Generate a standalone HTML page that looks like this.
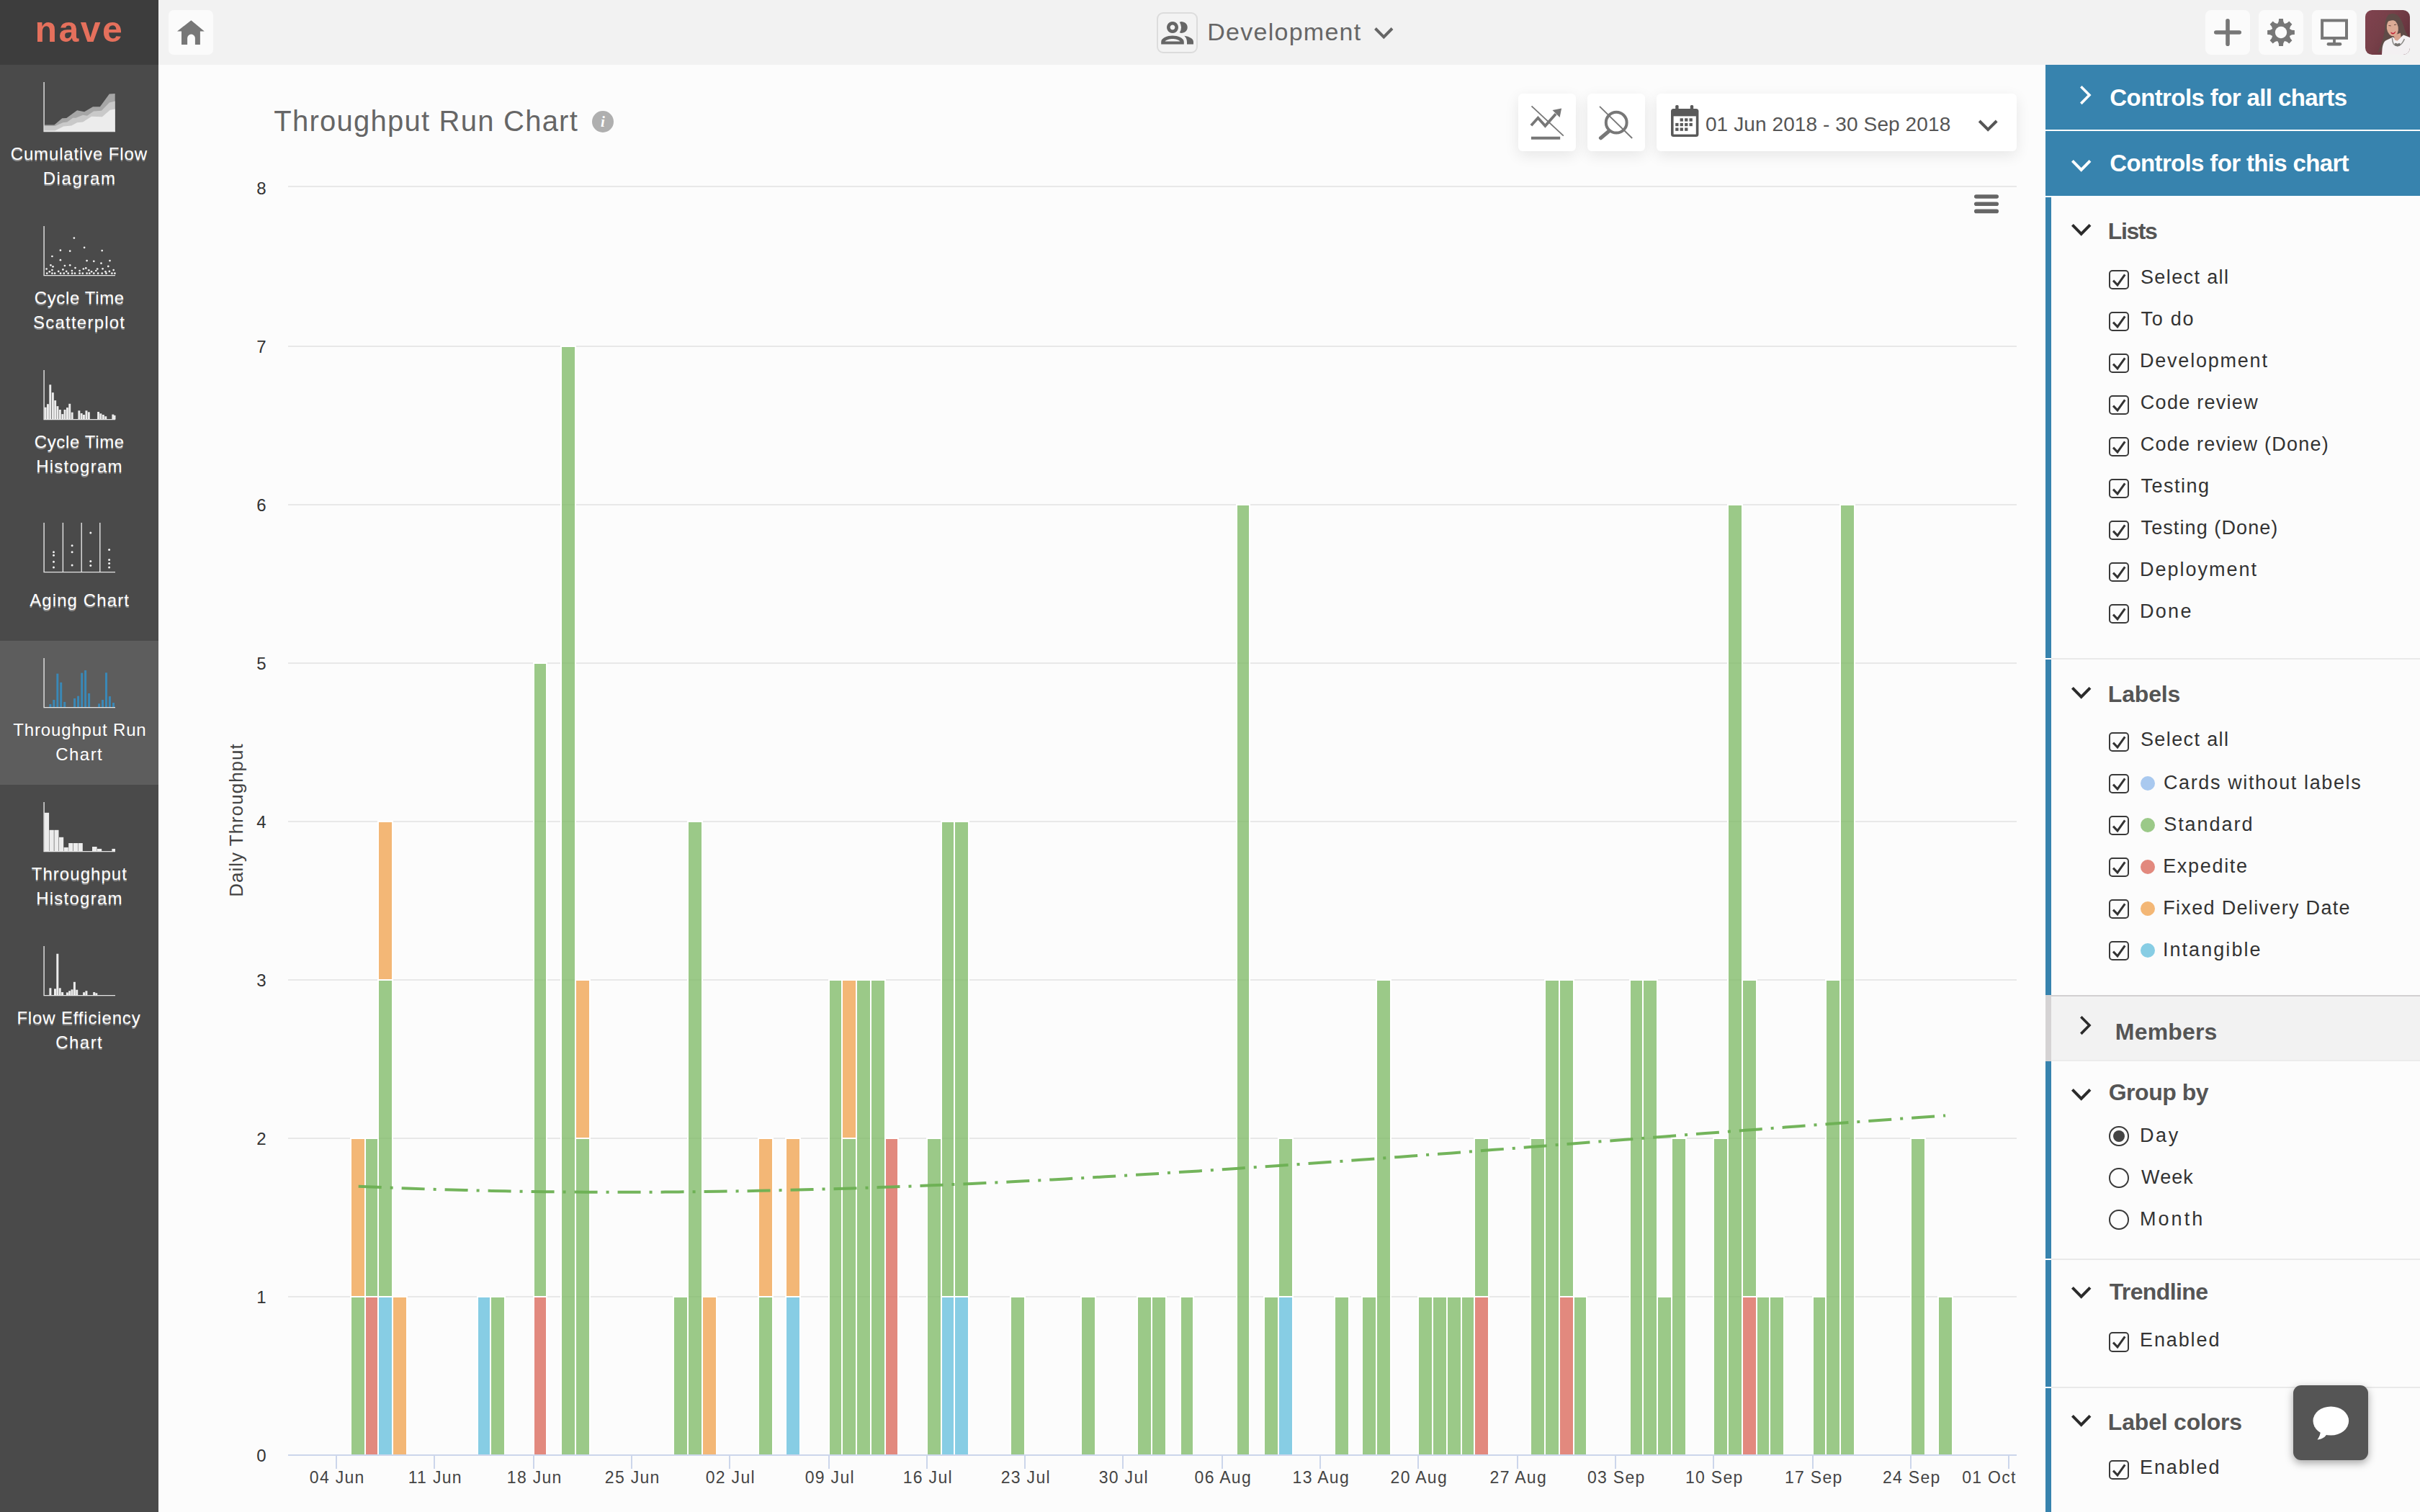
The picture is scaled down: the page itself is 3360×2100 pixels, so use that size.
<!DOCTYPE html>
<html lang="en"><head><meta charset="utf-8"><title>Throughput Run Chart</title>
<style>
html,body{margin:0;padding:0}
body{width:3360px;height:2100px;position:relative;overflow:hidden;background:#fcfcfc;font-family:"Liberation Sans",sans-serif}
.t{position:absolute;white-space:nowrap}
.a{position:absolute}
#side{position:absolute;left:0;top:0;width:220px;height:2100px;background:#4a4a4a}
#logo{position:absolute;left:0;top:0;width:220px;height:90px;background:#3d3d3d}
#top{position:absolute;left:220px;top:0;width:3140px;height:90px;background:#f2f2f2}
.btn{position:absolute;width:62px;height:62px;border-radius:8px;background:#fbfbfb}
.cbtn{position:absolute;height:80px;top:130px;background:#fff;border-radius:6px;box-shadow:0 6px 20px rgba(0,0,0,.09)}
.st{text-shadow:0 2px 1px rgba(255,255,255,.33)}
.cb{position:absolute;left:2928.3px;width:23.4px;height:23.4px;border:2px solid #3a3a3a;border-radius:5px;background:#fcfcfc}

.rb{position:absolute;left:2928.3px;width:23.4px;height:23.4px;border:2px solid #3a3a3a;border-radius:50%;background:#fdfdfd}
.dot{position:absolute;left:2972px;width:20px;height:20px;border-radius:50%}
.sep{position:absolute;left:2840px;width:520px;height:2px;background:linear-gradient(to right,#fff 8px,#e9e9e9 8px)}
</style></head><body>

<div id="side">
<div id="logo"></div>
<div class="t" style="left:48.6px;top:16px;font-size:50px;line-height:50px;color:#e5705c;letter-spacing:2.412px;font-weight:bold;">nave</div>
<svg class="a" style="left:60px;top:114px" width="101" height="70" viewBox="0 0 101 70"><polygon points="1.5,59.6 15.4,59.6 26.3,50.3 32.3,49.9 47.1,39.2 57.1,41.2 69,34.2 78.9,34.2 91.8,16.4 99.7,16 99.7,68.5 1.5,68.5" fill="#a6a6a6"/><polygon points="1.5,61 16.4,61 27.3,56.2 33.3,55.6 41.2,49.7 45.2,49.7 55.1,45.7 61,46.7 70,40.4 80.9,39.8 91.8,28.5 99.7,26.5 99.7,68.5 1.5,68.5" fill="#c9c9c9"/><polygon points="1.5,67.5 16.4,67.5 28.3,61.6 39.2,60.6 47.1,56.2 55.1,55.6 67,47.7 81.9,48.3 92.8,38.8 99.7,37.4 99.7,68.5 1.5,68.5" fill="#ececec"/><path d="M1.1 0V68.6H100" fill="none" stroke="#e4e4e4" stroke-width="1.4"/></svg>
<div class="t" style="left:14.73px;top:202px;font-size:24px;line-height:24px;color:#fff;letter-spacing:0.848px;text-shadow:0 2px 0 rgba(255,255,255,.38);">Cumulative Flow</div>
<div class="t" style="left:59.68px;top:236px;font-size:24px;line-height:24px;color:#fff;letter-spacing:1.591px;text-shadow:0 2px 0 rgba(255,255,255,.38);">Diagram</div>
<svg class="a" style="left:60px;top:314px" width="101" height="70" viewBox="0 0 101 70"><circle cx="42.9" cy="16.6" r="1.35" fill="#f0f0f0"/><circle cx="57.1" cy="29.8" r="1.35" fill="#f0f0f0"/><circle cx="23.9" cy="33.7" r="1.35" fill="#f0f0f0"/><circle cx="37.2" cy="34.7" r="1.35" fill="#f0f0f0"/><circle cx="81.7" cy="34.1" r="1.35" fill="#f0f0f0"/><circle cx="12.4" cy="42" r="1.35" fill="#f0f0f0"/><circle cx="23.9" cy="47.2" r="1.35" fill="#f0f0f0"/><circle cx="60.6" cy="48.1" r="1.35" fill="#f0f0f0"/><circle cx="70.3" cy="48.8" r="1.35" fill="#f0f0f0"/><circle cx="92.5" cy="48.1" r="1.35" fill="#f0f0f0"/><circle cx="80.5" cy="51.7" r="1.35" fill="#f0f0f0"/><circle cx="10.4" cy="54.3" r="1.35" fill="#f0f0f0"/><circle cx="13.5" cy="56.3" r="1.35" fill="#f0f0f0"/><circle cx="29.9" cy="55" r="1.35" fill="#f0f0f0"/><circle cx="37.2" cy="54.3" r="1.35" fill="#f0f0f0"/><circle cx="90.3" cy="55.9" r="1.35" fill="#f0f0f0"/><circle cx="44.5" cy="58.1" r="1.35" fill="#f0f0f0"/><circle cx="59.3" cy="58.4" r="1.35" fill="#f0f0f0"/><circle cx="55.9" cy="59.5" r="1.35" fill="#f0f0f0"/><circle cx="4.6" cy="59.5" r="1.35" fill="#f0f0f0"/><circle cx="75.2" cy="59.5" r="1.35" fill="#f0f0f0"/><circle cx="82.6" cy="59.3" r="1.35" fill="#f0f0f0"/><circle cx="12.4" cy="61.1" r="1.35" fill="#f0f0f0"/><circle cx="27.4" cy="60.4" r="1.35" fill="#f0f0f0"/><circle cx="63.3" cy="61.3" r="1.35" fill="#f0f0f0"/><circle cx="97.7" cy="61.1" r="1.35" fill="#f0f0f0"/><circle cx="39.9" cy="62" r="1.35" fill="#f0f0f0"/><circle cx="50.6" cy="62" r="1.35" fill="#f0f0f0"/><circle cx="73.3" cy="62" r="1.35" fill="#f0f0f0"/><circle cx="8.8" cy="63.3" r="1.35" fill="#f0f0f0"/><circle cx="21.2" cy="62.9" r="1.35" fill="#f0f0f0"/><circle cx="32.2" cy="62.9" r="1.35" fill="#f0f0f0"/><circle cx="67.1" cy="63.3" r="1.35" fill="#f0f0f0"/><circle cx="86.4" cy="63.3" r="1.35" fill="#f0f0f0"/><circle cx="91.9" cy="62.9" r="1.35" fill="#f0f0f0"/><circle cx="5.2" cy="65.7" r="1.35" fill="#f0f0f0"/><circle cx="12.4" cy="65.7" r="1.35" fill="#f0f0f0"/><circle cx="16.1" cy="65.7" r="1.35" fill="#f0f0f0"/><circle cx="24.1" cy="65.7" r="1.35" fill="#f0f0f0"/><circle cx="28.8" cy="65.7" r="1.35" fill="#f0f0f0"/><circle cx="34.7" cy="65.7" r="1.35" fill="#f0f0f0"/><circle cx="40.1" cy="65.7" r="1.35" fill="#f0f0f0"/><circle cx="44" cy="65.7" r="1.35" fill="#f0f0f0"/><circle cx="50.6" cy="65.7" r="1.35" fill="#f0f0f0"/><circle cx="54.8" cy="65.7" r="1.35" fill="#f0f0f0"/><circle cx="60.6" cy="65.7" r="1.35" fill="#f0f0f0"/><circle cx="64.3" cy="65.7" r="1.35" fill="#f0f0f0"/><circle cx="70.3" cy="65.7" r="1.35" fill="#f0f0f0"/><circle cx="76.1" cy="65.7" r="1.35" fill="#f0f0f0"/><circle cx="81.7" cy="65.7" r="1.35" fill="#f0f0f0"/><circle cx="87.5" cy="65.7" r="1.35" fill="#f0f0f0"/><circle cx="95.4" cy="65.7" r="1.35" fill="#f0f0f0"/><circle cx="99.4" cy="65.7" r="1.35" fill="#f0f0f0"/><path d="M1.1 0V68.6H100" fill="none" stroke="#e4e4e4" stroke-width="1.4"/></svg>
<div class="t" style="left:47.68px;top:402px;font-size:24px;line-height:24px;color:#fff;letter-spacing:0.644px;text-shadow:0 2px 0 rgba(255,255,255,.38);">Cycle Time</div>
<div class="t" style="left:46.11px;top:436px;font-size:24px;line-height:24px;color:#fff;letter-spacing:1.213px;text-shadow:0 2px 0 rgba(255,255,255,.38);">Scatterplot</div>
<svg class="a" style="left:60px;top:514px" width="101" height="70" viewBox="0 0 101 70"><rect x="1.7" y="51.7" width="2.9" height="16.9" fill="#ececec"/><rect x="5" y="47.2" width="2.9" height="21.4" fill="#ececec"/><rect x="8.3" y="20.3" width="2.9" height="48.3" fill="#ececec"/><rect x="11.9" y="31.2" width="2.9" height="37.4" fill="#ececec"/><rect x="15.2" y="42.1" width="2.9" height="26.5" fill="#ececec"/><rect x="18.5" y="50.1" width="2.9" height="18.5" fill="#ececec"/><rect x="21.9" y="55" width="2.9" height="13.6" fill="#ececec"/><rect x="25.4" y="61.1" width="2.9" height="7.5" fill="#ececec"/><rect x="28.6" y="55" width="2.9" height="13.6" fill="#ececec"/><rect x="32" y="52.1" width="2.9" height="16.5" fill="#ececec"/><rect x="35.3" y="46.8" width="2.9" height="21.8" fill="#ececec"/><rect x="38.7" y="58.7" width="2.9" height="9.9" fill="#ececec"/><rect x="48.4" y="56.3" width="2.9" height="12.3" fill="#ececec"/><rect x="51.7" y="60" width="2.9" height="8.6" fill="#ececec"/><rect x="55" y="62" width="2.9" height="6.6" fill="#ececec"/><rect x="58.5" y="56.3" width="2.9" height="12.3" fill="#ececec"/><rect x="61.9" y="58.3" width="2.9" height="10.3" fill="#ececec"/><rect x="75.1" y="58" width="2.9" height="10.6" fill="#ececec"/><rect x="78.4" y="60.3" width="2.9" height="8.3" fill="#ececec"/><rect x="81.9" y="62" width="2.9" height="6.6" fill="#ececec"/><rect x="85.3" y="64.2" width="2.9" height="4.4" fill="#ececec"/><rect x="95.4" y="61.6" width="2.9" height="7" fill="#ececec"/><rect x="97.6" y="62.9" width="2.9" height="5.7" fill="#ececec"/><path d="M1.1 0V68.6H100" fill="none" stroke="#e4e4e4" stroke-width="1.4"/></svg>
<div class="t" style="left:47.68px;top:602px;font-size:24px;line-height:24px;color:#fff;letter-spacing:0.644px;text-shadow:0 2px 0 rgba(255,255,255,.38);">Cycle Time</div>
<div class="t" style="left:50.13px;top:636px;font-size:24px;line-height:24px;color:#fff;letter-spacing:1.249px;text-shadow:0 2px 0 rgba(255,255,255,.38);">Histogram</div>
<svg class="a" style="left:60px;top:726px" width="101" height="70" viewBox="0 0 101 70"><path d="M27.4 0V69" stroke="#e4e4e4" stroke-width="1.4"/><path d="M53.2 0V69" stroke="#e4e4e4" stroke-width="1.4"/><path d="M78.8 0V69" stroke="#e4e4e4" stroke-width="1.4"/><circle cx="14.5" cy="40.7" r="1.5" fill="#f0f0f0"/><circle cx="14.5" cy="45.3" r="1.5" fill="#f0f0f0"/><circle cx="14.5" cy="54.3" r="1.5" fill="#f0f0f0"/><circle cx="14.5" cy="61.9" r="1.5" fill="#f0f0f0"/><circle cx="40.1" cy="31.7" r="1.5" fill="#f0f0f0"/><circle cx="40.1" cy="40.7" r="1.5" fill="#f0f0f0"/><circle cx="40.1" cy="59.1" r="1.5" fill="#f0f0f0"/><circle cx="65.8" cy="14.1" r="1.5" fill="#f0f0f0"/><circle cx="65.8" cy="53.6" r="1.5" fill="#f0f0f0"/><circle cx="65.8" cy="59.6" r="1.5" fill="#f0f0f0"/><circle cx="91.6" cy="37.4" r="1.5" fill="#f0f0f0"/><circle cx="91.6" cy="51.4" r="1.5" fill="#f0f0f0"/><circle cx="91.6" cy="56.6" r="1.5" fill="#f0f0f0"/><circle cx="91.6" cy="61.9" r="1.5" fill="#f0f0f0"/><path d="M1.1 0V68.6H100" fill="none" stroke="#e4e4e4" stroke-width="1.4"/></svg>
<div class="t" style="left:41.15px;top:822px;font-size:24px;line-height:24px;color:#fff;letter-spacing:1.107px;text-shadow:0 2px 0 rgba(255,255,255,.38);">Aging Chart</div>
<div class="a" style="left:0;top:890px;width:220px;height:200px;background:#5d5d5d"></div>
<svg class="a" style="left:60px;top:914px" width="101" height="70" viewBox="0 0 101 70"><rect x="8.4" y="64" width="3" height="4.2" fill="#3a88b6"/><rect x="13.3" y="58" width="3" height="10.2" fill="#3a88b6"/><rect x="18.3" y="21.6" width="3" height="46.6" fill="#3a88b6"/><rect x="23.2" y="33.8" width="3" height="34.4" fill="#3a88b6"/><rect x="28.2" y="60.9" width="3" height="7.3" fill="#3a88b6"/><rect x="42.1" y="56" width="3" height="12.2" fill="#3a88b6"/><rect x="47.1" y="52.7" width="3" height="15.5" fill="#3a88b6"/><rect x="52.2" y="20.6" width="3" height="47.6" fill="#3a88b6"/><rect x="57.1" y="17" width="3" height="51.2" fill="#3a88b6"/><rect x="62.1" y="49" width="3" height="19.2" fill="#3a88b6"/><rect x="76.1" y="63.3" width="3" height="4.9" fill="#3a88b6"/><rect x="81" y="58" width="3" height="10.2" fill="#3a88b6"/><rect x="86" y="20.3" width="3" height="47.9" fill="#3a88b6"/><rect x="90.9" y="53.1" width="3" height="15.1" fill="#3a88b6"/><rect x="96" y="62" width="3" height="6.2" fill="#3a88b6"/><path d="M1.1 0V68.6H100" fill="none" stroke="#e4e4e4" stroke-width="1.4"/></svg>
<div class="t" style="left:18.31px;top:1002px;font-size:24px;line-height:24px;color:#fff;letter-spacing:0.842px;">Throughput Run</div>
<div class="t" style="left:77.18px;top:1036px;font-size:24px;line-height:24px;color:#fff;letter-spacing:1.477px;">Chart</div>
<svg class="a" style="left:60px;top:1114px" width="101" height="70" viewBox="0 0 101 70"><rect x="1.5" y="14.8" width="6.6" height="53.8" fill="#ececec"/><rect x="8.5" y="38.8" width="6.3" height="29.8" fill="#ececec"/><rect x="15.4" y="38.8" width="6.1" height="29.8" fill="#ececec"/><rect x="22" y="48.8" width="6.2" height="19.8" fill="#ececec"/><rect x="28.6" y="62.9" width="6.2" height="5.7" fill="#ececec"/><rect x="35.2" y="57" width="6.2" height="11.6" fill="#ececec"/><rect x="41.9" y="57" width="6.2" height="11.6" fill="#ececec"/><rect x="48.5" y="57" width="6.3" height="11.6" fill="#ececec"/><rect x="68" y="62" width="6.6" height="6.6" fill="#ececec"/><rect x="74.9" y="64.9" width="6.3" height="3.7" fill="#ececec"/><rect x="95.4" y="64.9" width="4.6" height="3.7" fill="#ececec"/><path d="M1.1 0V68.6H100" fill="none" stroke="#e4e4e4" stroke-width="1.4"/></svg>
<div class="t" style="left:43.76px;top:1202px;font-size:24px;line-height:24px;color:#fff;letter-spacing:1.039px;text-shadow:0 2px 0 rgba(255,255,255,.38);">Throughput</div>
<div class="t" style="left:50.13px;top:1236px;font-size:24px;line-height:24px;color:#fff;letter-spacing:1.249px;text-shadow:0 2px 0 rgba(255,255,255,.38);">Histogram</div>
<svg class="a" style="left:60px;top:1314px" width="101" height="70" viewBox="0 0 101 70"><rect x="8.4" y="58.3" width="3" height="9.9" fill="#ececec"/><rect x="15" y="59.3" width="3" height="8.9" fill="#ececec"/><rect x="18.3" y="10.7" width="3" height="57.5" fill="#ececec"/><rect x="21.7" y="58.3" width="3" height="9.9" fill="#ececec"/><rect x="25.1" y="64" width="3" height="4.2" fill="#ececec"/><rect x="31.9" y="64.4" width="3" height="3.8" fill="#ececec"/><rect x="35.2" y="62.2" width="3" height="6" fill="#ececec"/><rect x="38.5" y="60.3" width="3" height="7.9" fill="#ececec"/><rect x="41.9" y="49.8" width="3" height="18.4" fill="#ececec"/><rect x="45.2" y="60.7" width="3" height="7.5" fill="#ececec"/><rect x="55.1" y="64.2" width="3" height="4" fill="#ececec"/><rect x="58.4" y="62.2" width="3" height="6" fill="#ececec"/><rect x="69.2" y="64" width="3" height="4.2" fill="#ececec"/><rect x="72.3" y="65.3" width="3" height="2.9" fill="#ececec"/><path d="M1.1 0V68.6H100" fill="none" stroke="#e4e4e4" stroke-width="1.4"/></svg>
<div class="t" style="left:23.38px;top:1402px;font-size:24px;line-height:24px;color:#fff;letter-spacing:0.836px;text-shadow:0 2px 0 rgba(255,255,255,.38);">Flow Efficiency</div>
<div class="t" style="left:77.18px;top:1436px;font-size:24px;line-height:24px;color:#fff;letter-spacing:1.477px;text-shadow:0 2px 0 rgba(255,255,255,.38);">Chart</div>
</div>
<div id="top"></div>
<div class="btn" style="left:234px;top:14px;border-radius:7px"></div>
<svg class="a" style="left:234px;top:14px" width="62" height="62" viewBox="234 14 62 62"><path fill="#777" d="M246 43.4 L265.4 28.3 L283.8 43.4 L277.9 43.4 L277.9 61.9 L270.9 61.9 L270.9 53 A5.4 5.4 0 0 0 260.1 53 L260.1 61.9 L252 61.9 L252 43.4Z"/></svg>
<div class="a" style="left:1606px;top:17px;width:53px;height:53px;border:2px solid #dcdcdc;border-radius:9px;background:#f3f3f3"></div>
<svg class="a" style="left:1606px;top:17px" width="57" height="57" viewBox="0 0 57 57">
<g fill="#666"><path fill-rule="evenodd" d="M22 13a8 8 0 1 0 .01 0zM22 17.6a3.4 3.4 0 1 1-.01 0z"/>
<path fill-rule="evenodd" d="M6.2 44.6v-3.4c0-5.6 8.6-8.6 15.8-8.6s15.8 3 15.8 8.6v3.4zM11.5 40.4h21c-1.7-2.2-6.2-3.5-10.5-3.5s-8.8 1.3-10.5 3.5z"/>
<path d="M31.8 13.7a7.9 7.9 0 1 1 0 14.6a13.9 13.9 0 0 0 0-14.6z"/>
<path d="M38.3 32.8c7.2 1 12.7 3.9 12.7 8.4v3.4h-9v-3.4c0-3.3-1.4-6.2-3.7-8.4z"/></g></svg>
<div class="t" style="left:1676.21px;top:27px;font-size:34px;line-height:34px;color:#666;letter-spacing:1.269px;">Development</div>
<svg class="a" style="left:1900px;top:30px" width="44" height="32" viewBox="1900 30 44 32"><path d="M1909.5 39.5L1921.3 51.3L1933 39.5" fill="none" stroke="#666" stroke-width="4"/></svg>
<div class="btn" style="left:3062px;top:14px"></div>
<div class="btn" style="left:3136px;top:14px"></div>
<div class="btn" style="left:3210px;top:14px"></div>
<svg class="a" style="left:3062px;top:14px" width="62" height="62" viewBox="0 0 62 62"><path d="M14.8 31H47.2M31 14.8V47.2" stroke="#777" stroke-width="5.6" stroke-linecap="round" fill="none"/></svg>
<svg class="a" style="left:3136px;top:14px" width="62" height="62" viewBox="0 0 62 62"><path fill="#777" d="M26.06 19.08 L27.71 15.95 L28.11 12.12 L33.89 12.12 L34.29 15.95 L35.94 19.08 L39.32 18.04 L42.31 15.61 L46.39 19.69 L43.96 22.68 L42.92 26.06 L46.05 27.71 L49.88 28.11 L49.88 33.89 L46.05 34.29 L42.92 35.94 L43.96 39.32 L46.39 42.31 L42.31 46.39 L39.32 43.96 L35.94 42.92 L34.29 46.05 L33.89 49.88 L28.11 49.88 L27.71 46.05 L26.06 42.92 L22.68 43.96 L19.69 46.39 L15.61 42.31 L18.04 39.32 L19.08 35.94 L15.95 34.29 L12.12 33.89 L12.12 28.11 L15.95 27.71 L19.08 26.06 L18.04 22.68 L15.61 19.69 L19.69 15.61 L22.68 18.04Z"/><circle cx="31" cy="31" r="8.2" fill="#fbfbfb"/></svg>
<svg class="a" style="left:3210px;top:14px" width="62" height="62" viewBox="0 0 62 62"><rect x="14.1" y="14.4" width="33.9" height="24.5" fill="none" stroke="#777" stroke-width="4"/><path d="M31 40V47" stroke="#777" stroke-width="3.8"/><path d="M22.9 47.3H39" stroke="#777" stroke-width="4.6" stroke-linecap="round"/></svg>
<svg class="a" style="left:3284px;top:14px" width="62" height="62" viewBox="0 0 62 62"><defs><clipPath id="av"><rect width="62" height="62" rx="9.5"/></clipPath>
<linearGradient id="avg" x1="0" y1="0" x2="1" y2=".6"><stop offset="0" stop-color="#80424f"/><stop offset=".45" stop-color="#774049"/><stop offset="1" stop-color="#64323c"/></linearGradient>
<filter id="avb" x="-10%" y="-10%" width="120%" height="120%"><feGaussianBlur stdDeviation=".55"/></filter></defs>
<g clip-path="url(#av)"><rect width="62" height="62" fill="url(#avg)"/><g filter="url(#avb)">
<path d="M38.4 5c-3.2-.2-6 1-7.6 3.2c-2.2 3-3 7.5-3.3 12c-.4 6-1 12-2.5 17.5c-1.3 5-3.5 11-5.4 15.8l-2.6 5.8l4.5-2.3l3-6l12-8l12 2l13.5 4v-10.3c-2.2-2.5-4.3-5.2-5.8-8.3c-2-4.2-3-9-4.8-13.4c-1.5-3.6-3.6-7.2-6.4-9.5c-1.8-1.5-4-2.3-6.6-2.5z" fill="#5f4c47"/>
<path d="M23 62l.5-8c.3-3.2 1-6 2.2-8.5c.8-1.6 1.6-2.9 3.3-3.6l9.5-4.3l6 4.5l8.5-7.5l9 3.3v24.1z" fill="#f3f0f2"/>
<path d="M39.5 35l1.5 6.5l3.5 1.2l5-5l-.5-6z" fill="#d8a48f"/>
<ellipse cx="37.8" cy="24.8" rx="8" ry="11.6" fill="#dcaa95" transform="rotate(-9 37.8 24.8)"/>
<path d="M30.5 14.5c2-3.5 6.5-5 10-3.5c2.5 1 4.3 3.2 5.2 6c-2.5-2.5-5.7-3.2-8.5-2.7c-2.6.5-5 1.8-6.7.2z" fill="#5f4c47"/>
<path d="M35.2 30.4c2.3 1.2 5 .8 7.2-1.2c-.6 2.7-2.3 4.3-4.2 4.3c-1.5 0-2.6-1.3-3-3.1z" fill="#c0212f"/>
<path d="M36.3 30.9c1.7.5 3.5.2 5-.8c-1 1.4-3.4 2.2-5 .8z" fill="#f6eeee"/>
<path d="M32.5 21.5l3.2.4M40 20.6l3.2-.6" stroke="#6b4a42" stroke-width="1" fill="none"/>
<path d="M37.4 38.8c.2 3.5.6 6 1.8 8c1.3 2 3.4 2.7 6 2.6c2.8-.1 4.7-1.7 6.3-4c1.2-1.7 2.2-3.6 2.9-5.3" fill="none" stroke="#8c8a88" stroke-width="1.5"/>
<path d="M40.5 46.5l2-.8l2.3 1l2.5-1l1.6 1.2l-1 2.8l-3 .9l-3.2-.8z" fill="#77736f"/>
</g></g></svg>
<div class="t" style="left:380.3px;top:148px;font-size:40px;line-height:40px;color:#666;letter-spacing:1.236px;">Throughput Run Chart</div>
<div class="a" style="left:822px;top:153.7px;width:30px;height:30px;border-radius:50%;background:#afafaf"></div>
<div class="t" style="left:822px;top:153.7px;width:30px;height:30px;line-height:30px;text-align:center;color:#fff;font:italic bold 21px/30px 'Liberation Serif',serif">i</div>
<div class="cbtn" style="left:2108px;width:80px"></div><div class="cbtn" style="left:2204px;width:80px"></div><div class="cbtn" style="left:2300px;width:500px"></div>
<svg class="a" style="left:2108px;top:130px" width="80" height="80" viewBox="2108 130 80 80">
<path d="M2125.9 174.2L2135.4 163.8L2145.4 174.8L2160.1 158.3" fill="none" stroke="#777" stroke-width="3.8"/>
<path d="M2155.5 153.1L2168.1 150.4L2165.6 162.9Z" fill="#777"/>
<path d="M2125.9 191.7H2166.2" stroke="#777" stroke-width="4"/>
<path d="M2126.5 147.3L2170.8 188.6" stroke="#777" stroke-width="1.8"/></svg>
<svg class="a" style="left:2204px;top:130px" width="80" height="80" viewBox="2204 130 80 80">
<circle cx="2244.2" cy="170.2" r="14.4" fill="none" stroke="#777" stroke-width="4"/>
<path d="M2233.8 182.2L2222.5 191.7" stroke="#777" stroke-width="5.2" stroke-linecap="round"/>
<path d="M2221 147.9L2266.2 192" stroke="#777" stroke-width="1.8"/></svg>
<svg class="a" style="left:2316px;top:142px" width="48" height="52" viewBox="2316 142 48 52"><rect x="2320" y="151" width="38.4" height="39" rx="3.5" fill="#595959"/><rect x="2326.2" y="146" width="4.4" height="10" rx="1.5" fill="#595959"/><rect x="2346.8" y="146" width="4.4" height="10" rx="1.5" fill="#595959"/><rect x="2323.6" y="161.4" width="31.2" height="25.2" fill="#fff"/><rect x="2332.6" y="164.3" width="4.3" height="4.3" fill="#595959"/><rect x="2339.1" y="164.3" width="4.3" height="4.3" fill="#595959"/><rect x="2345.5" y="164.3" width="4.3" height="4.3" fill="#595959"/><rect x="2326.2" y="170.9" width="4.3" height="4.3" fill="#595959"/><rect x="2332.6" y="170.9" width="4.3" height="4.3" fill="#595959"/><rect x="2339.1" y="170.9" width="4.3" height="4.3" fill="#595959"/><rect x="2345.5" y="170.9" width="4.3" height="4.3" fill="#595959"/><rect x="2326.2" y="177.5" width="4.3" height="4.3" fill="#595959"/><rect x="2332.6" y="177.5" width="4.3" height="4.3" fill="#595959"/><rect x="2339.1" y="177.5" width="4.3" height="4.3" fill="#595959"/></svg>
<div class="t" style="left:2367.91px;top:159px;font-size:28px;line-height:28px;color:#555;letter-spacing:0.103px;">01 Jun 2018 - 30 Sep 2018</div>
<svg class="a" style="left:2740px;top:158px" width="40" height="32" viewBox="2740 158 40 32"><path d="M2748.2 168L2760.2 180L2772.2 168" fill="none" stroke="#555" stroke-width="4"/></svg>
<svg class="a" style="left:220px;top:220px" width="2620" height="1880" viewBox="220 220 2620 1880" font-family="'Liberation Sans',sans-serif">
<rect x="400" y="1800" width="2400" height="2" fill="#e8e8e8"/>
<rect x="400" y="1580" width="2400" height="2" fill="#e8e8e8"/>
<rect x="400" y="1360" width="2400" height="2" fill="#e8e8e8"/>
<rect x="400" y="1140" width="2400" height="2" fill="#e8e8e8"/>
<rect x="400" y="920" width="2400" height="2" fill="#e8e8e8"/>
<rect x="400" y="700" width="2400" height="2" fill="#e8e8e8"/>
<rect x="400" y="480" width="2400" height="2" fill="#e8e8e8"/>
<rect x="400" y="258" width="2400" height="2" fill="#e8e8e8"/>
<g stroke="#fff" stroke-width="2">
<rect x="487" y="1801" width="20" height="220" fill="#7bb861" fill-opacity=".75"/>
<rect x="487" y="1581" width="20" height="220" fill="#f0a049" fill-opacity=".75"/>
<rect x="507" y="1801" width="18" height="220" fill="#d96354" fill-opacity=".75"/>
<rect x="507" y="1581" width="18" height="220" fill="#7bb861" fill-opacity=".75"/>
<rect x="525" y="1801" width="20" height="220" fill="#60bddc" fill-opacity=".75"/>
<rect x="525" y="1361" width="20" height="440" fill="#7bb861" fill-opacity=".75"/>
<rect x="525" y="1141" width="20" height="220" fill="#f0a049" fill-opacity=".75"/>
<rect x="545" y="1801" width="20" height="220" fill="#f0a049" fill-opacity=".75"/>
<rect x="663" y="1801" width="18" height="220" fill="#60bddc" fill-opacity=".75"/>
<rect x="681" y="1801" width="20" height="220" fill="#7bb861" fill-opacity=".75"/>
<rect x="741" y="1801" width="18" height="220" fill="#d96354" fill-opacity=".75"/>
<rect x="741" y="921" width="18" height="880" fill="#7bb861" fill-opacity=".75"/>
<rect x="779" y="481" width="20" height="1540" fill="#7bb861" fill-opacity=".75"/>
<rect x="799" y="1581" width="20" height="440" fill="#7bb861" fill-opacity=".75"/>
<rect x="799" y="1361" width="20" height="220" fill="#f0a049" fill-opacity=".75"/>
<rect x="935" y="1801" width="20" height="220" fill="#7bb861" fill-opacity=".75"/>
<rect x="955" y="1141" width="20" height="880" fill="#7bb861" fill-opacity=".75"/>
<rect x="975" y="1801" width="20" height="220" fill="#f0a049" fill-opacity=".75"/>
<rect x="1053" y="1801" width="20" height="220" fill="#7bb861" fill-opacity=".75"/>
<rect x="1053" y="1581" width="20" height="220" fill="#f0a049" fill-opacity=".75"/>
<rect x="1091" y="1801" width="20" height="220" fill="#60bddc" fill-opacity=".75"/>
<rect x="1091" y="1581" width="20" height="220" fill="#f0a049" fill-opacity=".75"/>
<rect x="1151" y="1361" width="18" height="660" fill="#7bb861" fill-opacity=".75"/>
<rect x="1169" y="1581" width="20" height="440" fill="#7bb861" fill-opacity=".75"/>
<rect x="1169" y="1361" width="20" height="220" fill="#f0a049" fill-opacity=".75"/>
<rect x="1189" y="1361" width="20" height="660" fill="#7bb861" fill-opacity=".75"/>
<rect x="1209" y="1361" width="20" height="660" fill="#7bb861" fill-opacity=".75"/>
<rect x="1229" y="1581" width="18" height="440" fill="#d96354" fill-opacity=".75"/>
<rect x="1287" y="1581" width="20" height="440" fill="#7bb861" fill-opacity=".75"/>
<rect x="1307" y="1801" width="18" height="220" fill="#60bddc" fill-opacity=".75"/>
<rect x="1307" y="1141" width="18" height="660" fill="#7bb861" fill-opacity=".75"/>
<rect x="1325" y="1801" width="20" height="220" fill="#60bddc" fill-opacity=".75"/>
<rect x="1325" y="1141" width="20" height="660" fill="#7bb861" fill-opacity=".75"/>
<rect x="1403" y="1801" width="20" height="220" fill="#7bb861" fill-opacity=".75"/>
<rect x="1501" y="1801" width="20" height="220" fill="#7bb861" fill-opacity=".75"/>
<rect x="1579" y="1801" width="20" height="220" fill="#7bb861" fill-opacity=".75"/>
<rect x="1599" y="1801" width="20" height="220" fill="#7bb861" fill-opacity=".75"/>
<rect x="1639" y="1801" width="18" height="220" fill="#7bb861" fill-opacity=".75"/>
<rect x="1717" y="701" width="18" height="1320" fill="#7bb861" fill-opacity=".75"/>
<rect x="1755" y="1801" width="20" height="220" fill="#7bb861" fill-opacity=".75"/>
<rect x="1775" y="1801" width="20" height="220" fill="#60bddc" fill-opacity=".75"/>
<rect x="1775" y="1581" width="20" height="220" fill="#7bb861" fill-opacity=".75"/>
<rect x="1853" y="1801" width="20" height="220" fill="#7bb861" fill-opacity=".75"/>
<rect x="1891" y="1801" width="20" height="220" fill="#7bb861" fill-opacity=".75"/>
<rect x="1911" y="1361" width="20" height="660" fill="#7bb861" fill-opacity=".75"/>
<rect x="1969" y="1801" width="20" height="220" fill="#7bb861" fill-opacity=".75"/>
<rect x="1989" y="1801" width="20" height="220" fill="#7bb861" fill-opacity=".75"/>
<rect x="2009" y="1801" width="20" height="220" fill="#7bb861" fill-opacity=".75"/>
<rect x="2029" y="1801" width="18" height="220" fill="#7bb861" fill-opacity=".75"/>
<rect x="2047" y="1801" width="20" height="220" fill="#d96354" fill-opacity=".75"/>
<rect x="2047" y="1581" width="20" height="220" fill="#7bb861" fill-opacity=".75"/>
<rect x="2125" y="1581" width="20" height="440" fill="#7bb861" fill-opacity=".75"/>
<rect x="2145" y="1361" width="20" height="660" fill="#7bb861" fill-opacity=".75"/>
<rect x="2165" y="1801" width="20" height="220" fill="#d96354" fill-opacity=".75"/>
<rect x="2165" y="1361" width="20" height="440" fill="#7bb861" fill-opacity=".75"/>
<rect x="2185" y="1801" width="18" height="220" fill="#7bb861" fill-opacity=".75"/>
<rect x="2263" y="1361" width="18" height="660" fill="#7bb861" fill-opacity=".75"/>
<rect x="2281" y="1361" width="20" height="660" fill="#7bb861" fill-opacity=".75"/>
<rect x="2301" y="1801" width="20" height="220" fill="#7bb861" fill-opacity=".75"/>
<rect x="2321" y="1581" width="20" height="440" fill="#7bb861" fill-opacity=".75"/>
<rect x="2379" y="1581" width="20" height="440" fill="#7bb861" fill-opacity=".75"/>
<rect x="2399" y="701" width="20" height="1320" fill="#7bb861" fill-opacity=".75"/>
<rect x="2419" y="1801" width="20" height="220" fill="#d96354" fill-opacity=".75"/>
<rect x="2419" y="1361" width="20" height="440" fill="#7bb861" fill-opacity=".75"/>
<rect x="2439" y="1801" width="18" height="220" fill="#7bb861" fill-opacity=".75"/>
<rect x="2457" y="1801" width="20" height="220" fill="#7bb861" fill-opacity=".75"/>
<rect x="2517" y="1801" width="18" height="220" fill="#7bb861" fill-opacity=".75"/>
<rect x="2535" y="1361" width="20" height="660" fill="#7bb861" fill-opacity=".75"/>
<rect x="2555" y="701" width="20" height="1320" fill="#7bb861" fill-opacity=".75"/>
<rect x="2653" y="1581" width="20" height="440" fill="#7bb861" fill-opacity=".75"/>
<rect x="2691" y="1801" width="20" height="220" fill="#7bb861" fill-opacity=".75"/>
</g>
<rect x="400" y="2020" width="2400" height="2" fill="#ccd6eb"/>
<rect x="466" y="2022" width="2" height="18" fill="#ccd6eb"/>
<text x="468.3" y="2059.7" font-size="23" fill="#444" text-anchor="middle" letter-spacing="1.3">04 Jun</text>
<rect x="602" y="2022" width="2" height="18" fill="#ccd6eb"/>
<text x="604.3" y="2059.7" font-size="23" fill="#444" text-anchor="middle" letter-spacing="1.3">11 Jun</text>
<rect x="740" y="2022" width="2" height="18" fill="#ccd6eb"/>
<text x="742.3" y="2059.7" font-size="23" fill="#444" text-anchor="middle" letter-spacing="1.3">18 Jun</text>
<rect x="876" y="2022" width="2" height="18" fill="#ccd6eb"/>
<text x="878.3" y="2059.7" font-size="23" fill="#444" text-anchor="middle" letter-spacing="1.3">25 Jun</text>
<rect x="1012" y="2022" width="2" height="18" fill="#ccd6eb"/>
<text x="1014.3" y="2059.7" font-size="23" fill="#444" text-anchor="middle" letter-spacing="1.3">02 Jul</text>
<rect x="1150" y="2022" width="2" height="18" fill="#ccd6eb"/>
<text x="1152.3" y="2059.7" font-size="23" fill="#444" text-anchor="middle" letter-spacing="1.3">09 Jul</text>
<rect x="1286" y="2022" width="2" height="18" fill="#ccd6eb"/>
<text x="1288.3" y="2059.7" font-size="23" fill="#444" text-anchor="middle" letter-spacing="1.3">16 Jul</text>
<rect x="1422" y="2022" width="2" height="18" fill="#ccd6eb"/>
<text x="1424.3" y="2059.7" font-size="23" fill="#444" text-anchor="middle" letter-spacing="1.3">23 Jul</text>
<rect x="1558" y="2022" width="2" height="18" fill="#ccd6eb"/>
<text x="1560.3" y="2059.7" font-size="23" fill="#444" text-anchor="middle" letter-spacing="1.3">30 Jul</text>
<rect x="1696" y="2022" width="2" height="18" fill="#ccd6eb"/>
<text x="1698.3" y="2059.7" font-size="23" fill="#444" text-anchor="middle" letter-spacing="1.3">06 Aug</text>
<rect x="1832" y="2022" width="2" height="18" fill="#ccd6eb"/>
<text x="1834.3" y="2059.7" font-size="23" fill="#444" text-anchor="middle" letter-spacing="1.3">13 Aug</text>
<rect x="1968" y="2022" width="2" height="18" fill="#ccd6eb"/>
<text x="1970.3" y="2059.7" font-size="23" fill="#444" text-anchor="middle" letter-spacing="1.3">20 Aug</text>
<rect x="2106" y="2022" width="2" height="18" fill="#ccd6eb"/>
<text x="2108.3" y="2059.7" font-size="23" fill="#444" text-anchor="middle" letter-spacing="1.3">27 Aug</text>
<rect x="2242" y="2022" width="2" height="18" fill="#ccd6eb"/>
<text x="2244.3" y="2059.7" font-size="23" fill="#444" text-anchor="middle" letter-spacing="1.3">03 Sep</text>
<rect x="2378" y="2022" width="2" height="18" fill="#ccd6eb"/>
<text x="2380.3" y="2059.7" font-size="23" fill="#444" text-anchor="middle" letter-spacing="1.3">10 Sep</text>
<rect x="2516" y="2022" width="2" height="18" fill="#ccd6eb"/>
<text x="2518.3" y="2059.7" font-size="23" fill="#444" text-anchor="middle" letter-spacing="1.3">17 Sep</text>
<rect x="2652" y="2022" width="2" height="18" fill="#ccd6eb"/>
<text x="2654.3" y="2059.7" font-size="23" fill="#444" text-anchor="middle" letter-spacing="1.3">24 Sep</text>
<rect x="2788" y="2022" width="2" height="18" fill="#ccd6eb"/>
<text x="2762" y="2059.7" font-size="23" fill="#444" text-anchor="middle" letter-spacing="1.3">01 Oct</text>
<text x="369.5" y="2030" font-size="24" fill="#333" text-anchor="end">0</text>
<text x="369.5" y="1810" font-size="24" fill="#333" text-anchor="end">1</text>
<text x="369.5" y="1590" font-size="24" fill="#333" text-anchor="end">2</text>
<text x="369.5" y="1370" font-size="24" fill="#333" text-anchor="end">3</text>
<text x="369.5" y="1150" font-size="24" fill="#333" text-anchor="end">4</text>
<text x="369.5" y="930" font-size="24" fill="#333" text-anchor="end">5</text>
<text x="369.5" y="710" font-size="24" fill="#333" text-anchor="end">6</text>
<text x="369.5" y="490" font-size="24" fill="#333" text-anchor="end">7</text>
<text x="369.5" y="270" font-size="24" fill="#333" text-anchor="end">8</text>
<text transform="translate(336.8 1139) rotate(-90)" font-size="26" fill="#444" text-anchor="middle" letter-spacing="1">Daily Throughput</text>
<path d="M497.7 1647.7 L516.2 1648.5 L534.7 1649.3 L553.2 1650 L571.8 1650.7 L590.3 1651.4 L608.8 1652 L627.3 1652.5 L645.8 1653 L664.3 1653.5 L682.9 1653.9 L701.4 1654.3 L719.9 1654.6 L738.4 1654.9 L756.9 1655.2 L775.4 1655.4 L794 1655.5 L812.5 1655.7 L831 1655.7 L849.5 1655.8 L868 1655.8 L886.5 1655.8 L905.1 1655.7 L923.6 1655.6 L942.1 1655.4 L960.6 1655.2 L979.1 1655 L997.6 1654.8 L1016.1 1654.5 L1034.7 1654.2 L1053.2 1653.8 L1071.7 1653.4 L1090.2 1653 L1108.7 1652.5 L1127.2 1652 L1145.8 1651.5 L1164.3 1651 L1182.8 1650.4 L1201.3 1649.8 L1219.8 1649.1 L1238.3 1648.5 L1256.9 1647.8 L1275.4 1647.1 L1293.9 1646.3 L1312.4 1645.5 L1330.9 1644.7 L1349.4 1643.9 L1368 1643 L1386.5 1642.2 L1405 1641.3 L1423.5 1640.3 L1442 1639.4 L1460.5 1638.4 L1479 1637.4 L1497.6 1636.4 L1516.1 1635.4 L1534.6 1634.3 L1553.1 1633.2 L1571.6 1632.1 L1590.1 1631 L1608.7 1629.9 L1627.2 1628.7 L1645.7 1627.6 L1664.2 1626.4 L1682.7 1625.2 L1701.2 1624 L1719.8 1622.7 L1738.3 1621.5 L1756.8 1620.2 L1775.3 1618.9 L1793.8 1617.7 L1812.3 1616.4 L1830.8 1615 L1849.4 1613.7 L1867.9 1612.4 L1886.4 1611 L1904.9 1609.7 L1923.4 1608.3 L1941.9 1606.9 L1960.5 1605.6 L1979 1604.2 L1997.5 1602.8 L2016 1601.4 L2034.5 1600 L2053 1598.5 L2071.6 1597.1 L2090.1 1595.7 L2108.6 1594.3 L2127.1 1592.8 L2145.6 1591.4 L2164.1 1590 L2182.7 1588.5 L2201.2 1587.1 L2219.7 1585.6 L2238.2 1584.2 L2256.7 1582.7 L2275.2 1581.3 L2293.7 1579.8 L2312.3 1578.4 L2330.8 1577 L2349.3 1575.5 L2367.8 1574.1 L2386.3 1572.7 L2404.8 1571.2 L2423.4 1569.8 L2441.9 1568.4 L2460.4 1567 L2478.9 1565.6 L2497.4 1564.2 L2515.9 1562.8 L2534.5 1561.4 L2553 1560 L2571.5 1558.7 L2590 1557.3 L2608.5 1555.9 L2627 1554.6 L2645.6 1553.3 L2664.1 1552 L2682.6 1550.7 L2701.1 1549.4" fill="none" stroke="#6cb052" stroke-width="4" stroke-dasharray="32 12 4 12" opacity=".95"/>
<rect x="2741" y="270.2" width="34" height="5.6" rx="2.8" fill="#666"/>
<rect x="2741" y="280.4" width="34" height="5.6" rx="2.8" fill="#666"/>
<rect x="2741" y="290.6" width="34" height="5.6" rx="2.8" fill="#666"/>
</svg>
<div class="a" style="left:2840px;top:90px;width:520px;height:90px;background:#3783ae"></div>
<div class="a" style="left:2840px;top:180px;width:520px;height:2px;background:#fff"></div>
<div class="a" style="left:2840px;top:182px;width:520px;height:90px;background:#3783ae"></div>
<div class="a" style="left:2840px;top:272px;width:520px;height:2px;background:#fff"></div>
<div class="a" style="left:2840px;top:274px;width:8px;height:1826px;background:#3783ae"></div>
<svg class="a" style="left:2883.9px;top:115.3px" width="23.4" height="34.2" viewBox="-4 -4 23.4 34.2"><path d="M1.3 1.3L13 13.1L1.3 24.9" fill="none" stroke="#fff" stroke-width="3.6"/></svg>
<div class="t" style="left:2929.35px;top:119px;font-size:33px;line-height:33px;color:#fff;letter-spacing:-0.599px;font-weight:bold;">Controls for all charts</div>
<svg class="a" style="left:2872.4px;top:217.7px" width="35.4" height="24.6" viewBox="-4 -4 35.4 24.6"><path d="M1.4 1.4L13.7 14.000000000000002L26 1.4" fill="none" stroke="#fff" stroke-width="4"/></svg>
<div class="t" style="left:2929.35px;top:210px;font-size:33px;line-height:33px;color:#fff;letter-spacing:-0.649px;font-weight:bold;">Controls for this chart</div>
<svg class="a" style="left:2872.4px;top:307px" width="35.4" height="24.6" viewBox="-4 -4 35.4 24.6"><path d="M1.4 1.4L13.7 14.000000000000002L26 1.4" fill="none" stroke="#2b2b2b" stroke-width="4"/></svg>
<div class="t" style="left:2926.86px;top:305px;font-size:32px;line-height:32px;color:#555;letter-spacing:-1.409px;font-weight:bold;">Lists</div>
<div class="cb" style="top:374.5px"><svg width="23" height="23" viewBox="2 2 23 23" style="display:block"><path d="M6 14.6L12 20.8L22.3 6.4" fill="none" stroke="#333" stroke-width="3"/></svg></div>
<div class="t" style="left:2971.97px;top:372px;font-size:27px;line-height:27px;color:#333;letter-spacing:1.386px;">Select all</div>
<div class="cb" style="top:432.5px"><svg width="23" height="23" viewBox="2 2 23 23" style="display:block"><path d="M6 14.6L12 20.8L22.3 6.4" fill="none" stroke="#333" stroke-width="3"/></svg></div>
<div class="t" style="left:2972.59px;top:430px;font-size:27px;line-height:27px;color:#333;letter-spacing:1.744px;">To do</div>
<div class="cb" style="top:490.5px"><svg width="23" height="23" viewBox="2 2 23 23" style="display:block"><path d="M6 14.6L12 20.8L22.3 6.4" fill="none" stroke="#333" stroke-width="3"/></svg></div>
<div class="t" style="left:2970.99px;top:488px;font-size:27px;line-height:27px;color:#333;letter-spacing:1.782px;">Development</div>
<div class="cb" style="top:548.5px"><svg width="23" height="23" viewBox="2 2 23 23" style="display:block"><path d="M6 14.6L12 20.8L22.3 6.4" fill="none" stroke="#333" stroke-width="3"/></svg></div>
<div class="t" style="left:2971.83px;top:546px;font-size:27px;line-height:27px;color:#333;letter-spacing:1.273px;">Code review</div>
<div class="cb" style="top:606.5px"><svg width="23" height="23" viewBox="2 2 23 23" style="display:block"><path d="M6 14.6L12 20.8L22.3 6.4" fill="none" stroke="#333" stroke-width="3"/></svg></div>
<div class="t" style="left:2971.83px;top:604px;font-size:27px;line-height:27px;color:#333;letter-spacing:1.22px;">Code review (Done)</div>
<div class="cb" style="top:664.5px"><svg width="23" height="23" viewBox="2 2 23 23" style="display:block"><path d="M6 14.6L12 20.8L22.3 6.4" fill="none" stroke="#333" stroke-width="3"/></svg></div>
<div class="t" style="left:2972.59px;top:662px;font-size:27px;line-height:27px;color:#333;letter-spacing:1.481px;">Testing</div>
<div class="cb" style="top:722.5px"><svg width="23" height="23" viewBox="2 2 23 23" style="display:block"><path d="M6 14.6L12 20.8L22.3 6.4" fill="none" stroke="#333" stroke-width="3"/></svg></div>
<div class="t" style="left:2972.59px;top:720px;font-size:27px;line-height:27px;color:#333;letter-spacing:1.091px;">Testing (Done)</div>
<div class="cb" style="top:780.5px"><svg width="23" height="23" viewBox="2 2 23 23" style="display:block"><path d="M6 14.6L12 20.8L22.3 6.4" fill="none" stroke="#333" stroke-width="3"/></svg></div>
<div class="t" style="left:2970.99px;top:778px;font-size:27px;line-height:27px;color:#333;letter-spacing:2.004px;">Deployment</div>
<div class="cb" style="top:838.5px"><svg width="23" height="23" viewBox="2 2 23 23" style="display:block"><path d="M6 14.6L12 20.8L22.3 6.4" fill="none" stroke="#333" stroke-width="3"/></svg></div>
<div class="t" style="left:2970.99px;top:836px;font-size:27px;line-height:27px;color:#333;letter-spacing:2.289px;">Done</div>
<div class="sep" style="top:914px"></div>
<svg class="a" style="left:2872.4px;top:950.3px" width="35.4" height="24.6" viewBox="-4 -4 35.4 24.6"><path d="M1.4 1.4L13.7 14.000000000000002L26 1.4" fill="none" stroke="#2b2b2b" stroke-width="4"/></svg>
<div class="t" style="left:2926.86px;top:948px;font-size:32px;line-height:32px;color:#555;letter-spacing:-0.184px;font-weight:bold;">Labels</div>
<div class="cb" style="top:1016.7px"><svg width="23" height="23" viewBox="2 2 23 23" style="display:block"><path d="M6 14.6L12 20.8L22.3 6.4" fill="none" stroke="#333" stroke-width="3"/></svg></div>
<div class="t" style="left:2971.97px;top:1014px;font-size:27px;line-height:27px;color:#333;letter-spacing:1.386px;">Select all</div>
<div class="cb" style="top:1074.7px"><svg width="23" height="23" viewBox="2 2 23 23" style="display:block"><path d="M6 14.6L12 20.8L22.3 6.4" fill="none" stroke="#333" stroke-width="3"/></svg></div>
<div class="dot" style="top:1078.2px;background:#a9c9ef"></div>
<div class="t" style="left:3004.03px;top:1074px;font-size:27px;line-height:27px;color:#333;letter-spacing:1.606px;">Cards without labels</div>
<div class="cb" style="top:1132.7px"><svg width="23" height="23" viewBox="2 2 23 23" style="display:block"><path d="M6 14.6L12 20.8L22.3 6.4" fill="none" stroke="#333" stroke-width="3"/></svg></div>
<div class="dot" style="top:1136.2px;background:#9bc988"></div>
<div class="t" style="left:3004.17px;top:1132px;font-size:27px;line-height:27px;color:#333;letter-spacing:1.968px;">Standard</div>
<div class="cb" style="top:1190.7px"><svg width="23" height="23" viewBox="2 2 23 23" style="display:block"><path d="M6 14.6L12 20.8L22.3 6.4" fill="none" stroke="#333" stroke-width="3"/></svg></div>
<div class="dot" style="top:1194.2px;background:#e2897e"></div>
<div class="t" style="left:3003.19px;top:1190px;font-size:27px;line-height:27px;color:#333;letter-spacing:1.677px;">Expedite</div>
<div class="cb" style="top:1248.7px"><svg width="23" height="23" viewBox="2 2 23 23" style="display:block"><path d="M6 14.6L12 20.8L22.3 6.4" fill="none" stroke="#333" stroke-width="3"/></svg></div>
<div class="dot" style="top:1252.2px;background:#f3b776"></div>
<div class="t" style="left:3003.19px;top:1248px;font-size:27px;line-height:27px;color:#333;letter-spacing:1.324px;">Fixed Delivery Date</div>
<div class="cb" style="top:1306.7px"><svg width="23" height="23" viewBox="2 2 23 23" style="display:block"><path d="M6 14.6L12 20.8L22.3 6.4" fill="none" stroke="#333" stroke-width="3"/></svg></div>
<div class="dot" style="top:1310.2px;background:#87cde4"></div>
<div class="t" style="left:3002.91px;top:1306px;font-size:27px;line-height:27px;color:#333;letter-spacing:2.065px;">Intangible</div>
<div class="a" style="left:2840px;top:1382px;width:520px;height:92px;background:#f2f2f2"></div>
<div class="a" style="left:2840px;top:1382px;width:520px;height:2px;background:#d2d0d1"></div>
<div class="a" style="left:2840px;top:1472px;width:520px;height:2px;background:#ececec"></div>
<div class="a" style="left:2840px;top:1382px;width:8px;height:92px;background:#d5d3d4"></div>
<svg class="a" style="left:2883.9px;top:1406.7px" width="23.4" height="34.2" viewBox="-4 -4 23.4 34.2"><path d="M1.3 1.3L13 13.1L1.3 24.9" fill="none" stroke="#2b2b2b" stroke-width="3.6"/></svg>
<div class="t" style="left:2936.86px;top:1417px;font-size:32px;line-height:32px;color:#555;letter-spacing:0.159px;font-weight:bold;">Members</div>
<svg class="a" style="left:2872.4px;top:1507.5px" width="35.4" height="24.6" viewBox="-4 -4 35.4 24.6"><path d="M1.4 1.4L13.7 14.000000000000002L26 1.4" fill="none" stroke="#2b2b2b" stroke-width="4"/></svg>
<div class="t" style="left:2927.69px;top:1501px;font-size:32px;line-height:32px;color:#555;letter-spacing:-0.476px;font-weight:bold;">Group by</div>
<div class="rb" style="top:1564.3px"><div style="position:absolute;left:3.5px;top:3.5px;width:16.4px;height:16.4px;border-radius:50%;background:#444"></div></div>
<div class="t" style="left:2970.99px;top:1564px;font-size:27px;line-height:27px;color:#333;letter-spacing:2.576px;">Day</div>
<div class="rb" style="top:1622.3px"></div>
<div class="t" style="left:2973.08px;top:1622px;font-size:27px;line-height:27px;color:#333;letter-spacing:1.083px;">Week</div>
<div class="rb" style="top:1680.3px"></div>
<div class="t" style="left:2970.99px;top:1680px;font-size:27px;line-height:27px;color:#333;letter-spacing:3.055px;">Month</div>
<div class="sep" style="top:1748px"></div>
<svg class="a" style="left:2872.4px;top:1783px" width="35.4" height="24.6" viewBox="-4 -4 35.4 24.6"><path d="M1.4 1.4L13.7 14.000000000000002L26 1.4" fill="none" stroke="#2b2b2b" stroke-width="4"/></svg>
<div class="t" style="left:2928.64px;top:1778px;font-size:32px;line-height:32px;color:#555;letter-spacing:-0.6px;font-weight:bold;">Trendline</div>
<div class="cb" style="top:1850.3px"><svg width="23" height="23" viewBox="2 2 23 23" style="display:block"><path d="M6 14.6L12 20.8L22.3 6.4" fill="none" stroke="#333" stroke-width="3"/></svg></div>
<div class="t" style="left:2970.99px;top:1848px;font-size:27px;line-height:27px;color:#333;letter-spacing:1.894px;">Enabled</div>
<div class="sep" style="top:1926px"></div>
<svg class="a" style="left:2872.4px;top:1961.1px" width="35.4" height="24.6" viewBox="-4 -4 35.4 24.6"><path d="M1.4 1.4L13.7 14.000000000000002L26 1.4" fill="none" stroke="#2b2b2b" stroke-width="4"/></svg>
<div class="t" style="left:2926.86px;top:1959px;font-size:32px;line-height:32px;color:#555;letter-spacing:-0.204px;font-weight:bold;">Label colors</div>
<div class="cb" style="top:2028px"><svg width="23" height="23" viewBox="2 2 23 23" style="display:block"><path d="M6 14.6L12 20.8L22.3 6.4" fill="none" stroke="#333" stroke-width="3"/></svg></div>
<div class="t" style="left:2970.99px;top:2025px;font-size:27px;line-height:27px;color:#333;letter-spacing:1.894px;">Enabled</div>
<div class="a" style="left:3184px;top:1924px;width:104px;height:104px;border-radius:11px;background:#555;box-shadow:0 4px 12px rgba(0,0,0,.35)"></div>
<svg class="a" style="left:3184px;top:1924px" width="104" height="104" viewBox="3184 1924 104 104"><ellipse cx="3236.3" cy="1973.5" rx="24.8" ry="20" fill="#fff"/><path d="M3222 1986c0 6-2 10-4.5 13.5c6-.5 11-3.5 13.5-8z" fill="#fff"/></svg>
</body></html>
